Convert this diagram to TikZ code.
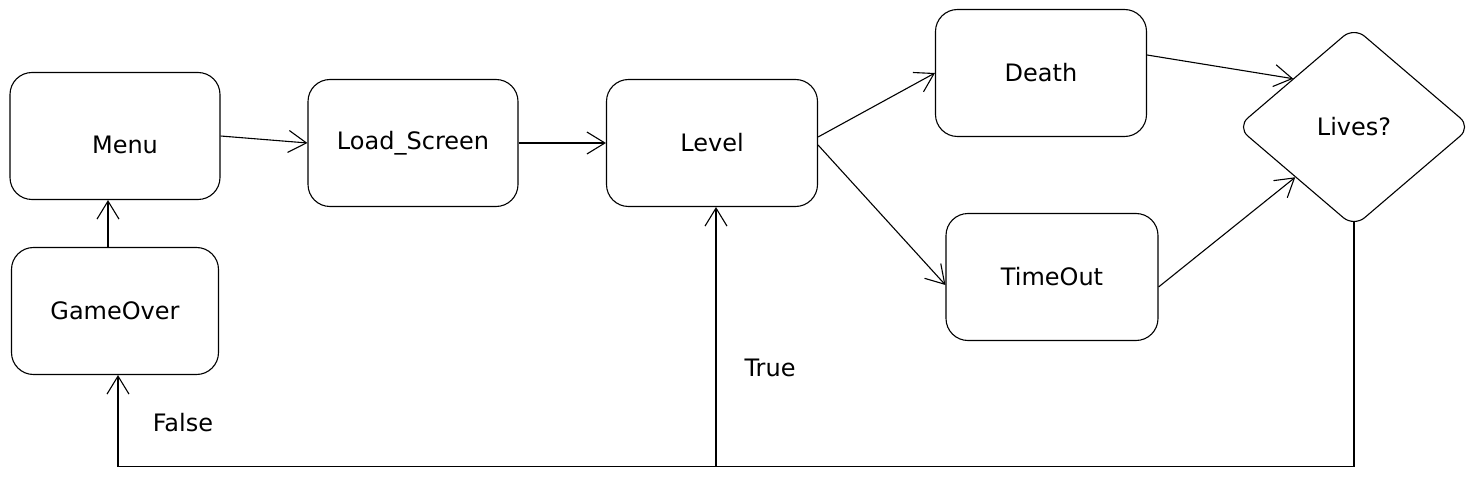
\documentclass[tikz,border=0pt]{standalone}
\usepackage{fontspec}
\setmainfont{DejaVu Sans}
\usetikzlibrary{arrows.meta,shapes.geometric}
\tikzset{
  txt/.style={font=\fontsize{24}{28}\selectfont},
  box/.style={draw=black, line width=1.1pt, rounded corners=22pt, minimum width=#1, minimum height=127pt, inner sep=0pt, txt},
  box/.default=210pt,
  arr/.style={draw=black, line width=1.1pt, -{Straight Barb[length=18pt,width=22pt,line width=1.1pt]}},
  lbl/.style={txt, inner sep=0pt}
}
\begin{document}
\begin{tikzpicture}[x=1pt,y=-1pt]
\useasboundingbox[fill=white] (0,0) rectangle (1478,481);
\node[box] (menu) at (115,136) {};
\node[lbl] (menutxt) at (125,145) {Menu};
\node[box] (load) at (413,143) {Load\_Screen};
\node[box=211pt] (level) at (712,143) {Level};
\node[box=211pt] (death) at (1041,73) {Death};
\node[box=212pt] (timeout) at (1052,277) {TimeOut};
\node[box=207pt] (gameover) at (115,311) {GameOver};
\node[draw=black, line width=1.1pt, diamond, aspect=1.165, minimum width=234pt, minimum height=200pt, inner sep=0pt, rounded corners=14pt, txt] (lives) at (1354,127) {Lives?};

\draw[arr] (menu.east) -- (load.west);
\draw[arr] (load.east) -- (level.west);
\draw[arr] ([yshift=6pt]level.east) -- (death.west);
\draw[arr] ([yshift=-2pt]level.east) -- ([yshift=-8pt]timeout.west);
\draw[arr] ([yshift=18pt]death.east) -- ([shift={(-2pt,-2pt)}]lives.north west);
\draw[arr] ([yshift=-10pt]timeout.east) -- (lives.south west);
\draw[arr] ([xshift=-7pt]gameover.north) -- ([xshift=-7pt]menu.south);

\coordinate (corner) at ([yshift=-239pt]lives.south);
\coordinate (tjoin) at ([xshift=4pt]level.south |- corner);
\draw[arr] ([yshift=7pt]lives.south) -- (corner) -| ([xshift=3pt]gameover.south);
\draw[arr] (tjoin) -- ([xshift=4pt]level.south);

\node[lbl] (truelbl) at (770,368) {True};
\node[lbl] (falselbl) at (183,423) {False};
\end{tikzpicture}
\end{document}
